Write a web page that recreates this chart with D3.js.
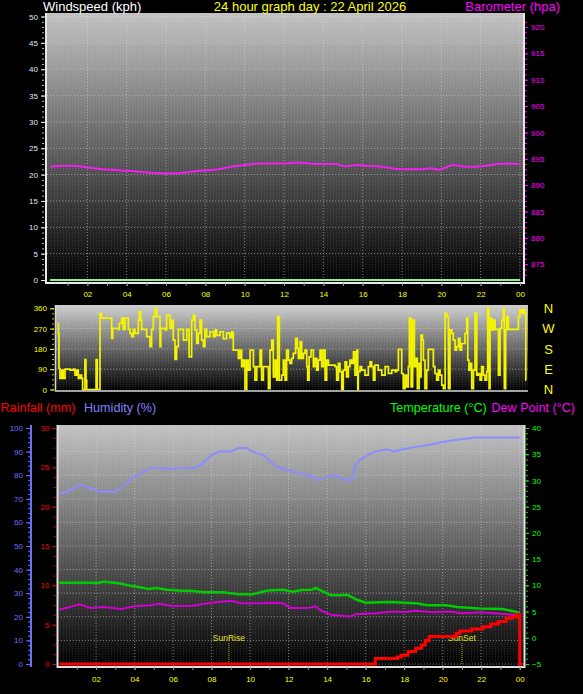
<!DOCTYPE html>
<html>
<head>
<meta charset="utf-8">
<script src="https://cdn.jsdelivr.net/npm/d3@7"></script>
<style>
body { margin: 0; background: #000; }
svg { display: block; }
text { font-family: "Liberation Sans", Arial, sans-serif; }
</style>
</head>
<body>
<svg id="chart" width="583" height="694"></svg>
<script>
const hourTicks = [2, 4, 6, 8, 10, 12, 14, 16, 18, 20, 22, 24];
const hourLabels = ['02', '04', '06', '08', '10', '12', '14', '16', '18', '20', '22', '00'];

const windTicks = [0, 5, 10, 15, 20, 25, 30, 35, 40, 45, 50];
const baroTicks = [875, 880, 885, 890, 895, 900, 905, 910, 915, 920];
const dirTicks = [0, 90, 180, 270, 360];
const compassDirs = [360, 270, 180, 90, 0];
const compassLabels = ['N', 'W', 'S', 'E', 'N'];
const humTicks = [0, 10, 20, 30, 40, 50, 60, 70, 80, 90, 100];
const rainTicks = [0, 5, 10, 15, 20, 25, 30];
const tempTicks = [-5, 0, 5, 10, 15, 20, 25, 30, 35, 40];

// wind speed sat at zero all day
const windHours = [0.1, 24];
const windValues = [0, 0];

const baroHours = [0.1, 1.0, 1.6, 2.3, 3.2, 4.2, 5.1, 6.05, 7.0, 7.6, 8.5, 9.3, 10.0, 10.8, 11.9, 12.7, 13.6, 14.6, 15.1, 15.7, 16.45, 17.0, 17.95, 18.9, 19.5, 19.85, 20.6, 21.2, 22.1, 22.9, 23.45, 24.0];
const baroValues = [893.5, 893.7, 893.6, 893.2, 892.9, 892.7, 892.4, 892.2, 892.4, 892.7, 892.9, 893.5, 893.8, 894.1, 894.1, 894.3, 894.0, 894.0, 893.6, 893.8, 893.6, 893.5, 893.0, 893.0, 893.2, 892.9, 893.8, 893.5, 893.6, 894.0, 894.1, 894.0];

const dirHours = [0.02, 0.07, 0.10, 0.15, 0.24, 0.32, 0.41, 0.49, 0.67, 0.84, 0.92, 1.01, 1.09, 1.18, 1.26, 1.31, 1.43, 1.48, 1.52, 1.94, 2.00, 2.06, 2.17, 2.20, 2.28, 2.63, 2.80, 2.85, 3.14, 3.19, 3.31, 3.39, 3.48, 3.65, 3.74, 3.82, 3.91, 3.99, 4.16, 4.21, 4.28, 4.33, 4.50, 4.59, 4.76, 4.84, 4.93, 5.02, 5.10, 5.19, 5.27, 5.31, 5.53, 5.61, 5.70, 5.78, 5.87, 5.95, 6.04, 6.12, 6.21, 6.47, 6.64, 6.76, 6.89, 6.98, 7.06, 7.15, 7.23, 7.32, 7.40, 7.49, 7.57, 7.66, 7.83, 8.00, 8.09, 8.17, 8.34, 8.51, 8.68, 8.85, 8.94, 8.99, 9.02, 9.19, 9.28, 9.37, 9.45, 9.54, 9.62, 9.71, 9.79, 9.88, 10.05, 10.13, 10.22, 10.39, 10.47, 10.56, 10.82, 10.90, 10.99, 11.07, 11.16, 11.24, 11.29, 11.38, 11.50, 11.58, 11.67, 11.75, 11.84, 11.92, 12.01, 12.09, 12.21, 12.30, 12.35, 12.44, 12.52, 12.61, 12.69, 12.78, 12.83, 12.90, 13.00, 13.12, 13.20, 13.29, 13.37, 13.46, 13.54, 13.63, 13.72, 13.80, 13.89, 14.14, 14.23, 14.31, 14.40, 14.48, 14.57, 14.65, 14.74, 14.82, 14.91, 14.99, 15.08, 15.17, 15.25, 15.34, 15.39, 15.42, 15.51, 15.59, 15.76, 15.93, 16.02, 16.10, 16.19, 16.27, 16.44, 16.62, 16.79, 16.96, 17.13, 17.30, 17.38, 17.47, 17.55, 17.64, 17.72, 17.81, 17.89, 17.98, 18.03, 18.12, 18.20, 18.29, 18.37, 18.44, 18.53, 18.58, 18.63, 18.70, 18.75, 18.83, 18.92, 19.00, 19.17, 19.26, 19.34, 19.43, 19.52, 19.60, 19.69, 19.77, 19.86, 19.94, 20.03, 20.11, 20.20, 20.28, 20.37, 20.45, 20.54, 20.62, 20.71, 20.88, 20.97, 21.02, 21.08, 21.14, 21.22, 21.31, 21.39, 21.48, 21.56, 21.65, 21.73, 21.82, 21.90, 21.99, 22.04, 22.11, 22.16, 22.24, 22.33, 22.42, 22.50, 22.59, 22.67, 22.76, 22.84, 22.89, 22.96, 23.01, 23.10, 23.52, 23.61, 23.69, 23.78, 23.87, 23.95, 23.99, 24.0];
const dirValues = [293, 249, 93, 49, 86, 49, 90, 90, 86, 90, 64, 86, 49, 64, 49, 0, 133, 41, 0, 0, 133, 0, 0, 338, 316, 316, 227, 271, 267, 293, 316, 267, 316, 267, 249, 234, 267, 249, 308, 345, 308, 267, 267, 234, 190, 267, 323, 360, 323, 323, 190, 271, 264, 330, 330, 271, 308, 219, 133, 190, 267, 219, 267, 145, 308, 330, 264, 204, 249, 308, 219, 190, 267, 234, 256, 234, 264, 240, 256, 225, 250, 230, 256, 249, 175, 175, 138, 175, 101, 130, 0, 130, 86, 175, 101, 41, 101, 175, 41, 101, 4, 175, 219, 56, 130, 41, 323, 41, 64, 130, 41, 175, 130, 116, 138, 160, 227, 182, 138, 212, 138, 160, 175, 101, 41, 145, 175, 101, 138, 86, 130, 175, 101, 175, 41, 130, 108, 108, 101, 41, 116, 79, 0, 86, 123, 56, 101, 130, 116, 167, 64, 175, 0, 79, 101, 86, 64, 101, 123, 101, 41, 108, 86, 64, 101, 71, 86, 79, 86, 178, 178, 71, 4, 64, 12, 101, 316, 12, 308, 101, 138, 4, 116, 56, 241, 219, 130, 4, 86, 178, 178, 101, 71, 41, 86, 64, 19, 4, 338, 323, 4, 264, 249, 219, 175, 190, 227, 175, 204, 249, 316, 130, 86, 116, 4, 86, 338, 64, 71, 41, 101, 64, 41, 79, 360, 4, 316, 264, 308, 267, 267, 64, 271, 308, 360, 4, 264, 323, 267, 267, 323, 353, 338, 353, 338, 41, 41];

const humHours = [0.1, 0.5, 1.17, 1.85, 2.2, 3.0, 3.4, 3.77, 4.15, 4.8, 5.4, 5.9, 6.5, 7.0, 7.4, 8.0, 8.4, 9.0, 9.4, 9.85, 10.1, 10.7, 11.3, 12.0, 12.45, 13.0, 13.6, 14.1, 14.5, 14.9, 15.3, 15.45, 15.7, 16.1, 16.5, 17.1, 17.5, 17.95, 18.6, 19.4, 19.9, 20.75, 21.7, 22.0, 24.0];
const humValues = [72, 73, 76, 74, 73, 73, 75, 78, 80, 83, 83, 82.5, 83, 83, 84, 88.5, 90, 90, 91.5, 91.5, 90, 88.5, 84, 82, 81, 80, 78, 79.7, 79.7, 78, 78, 84, 86.4, 88.5, 90, 91, 90, 91, 92, 93, 94, 95, 96, 96, 96];

const tempHours = [0.1, 1.9, 2.0, 2.4, 3.2, 3.8, 4.35, 4.7, 5.1, 5.7, 6.3, 7.05, 7.65, 8.6, 9.4, 10.15, 10.9, 11.7, 12.25, 12.65, 13.2, 13.4, 13.8, 14.2, 14.7, 15.05, 15.55, 16.0, 17.25, 18.6, 19.2, 20.2, 20.75, 21.9, 23.1, 23.75, 24.0];
const tempValues = [10.5, 10.5, 10.4, 10.7, 10.4, 9.9, 9.6, 9.3, 9.5, 9.15, 9.0, 8.9, 8.7, 8.7, 8.3, 8.3, 9.0, 9.15, 8.8, 9.1, 9.15, 9.5, 8.8, 8.1, 8.1, 8.2, 7.25, 6.7, 6.8, 6.6, 6.2, 6.2, 5.85, 5.6, 5.5, 5.0, 4.7];

const dewHours = [0.1, 1.15, 1.7, 2.4, 3.3, 4.0, 4.8, 5.3, 6.0, 7.0, 8.0, 9.0, 9.5, 10.5, 11.2, 11.7, 12.1, 13.0, 13.4, 13.7, 14.2, 15.2, 15.5, 16.5, 17.5, 18.0, 18.6, 19.5, 20.3, 21.0, 22.0, 23.0, 23.7, 24.0];
const dewValues = [5.35, 6.4, 5.7, 5.85, 5.5, 6.0, 6.2, 6.5, 6.0, 6.1, 6.7, 7.05, 6.6, 6.6, 6.7, 6.6, 5.7, 5.7, 6.0, 5.15, 4.4, 4.05, 4.5, 4.7, 5.0, 4.85, 5.15, 4.85, 5.0, 4.7, 4.85, 4.6, 4.4, 3.75];

const rainHours = [0.1, 16.5, 17.65, 17.85, 18.2, 18.6, 18.9, 19.1, 19.3, 20.7, 20.9, 21.5, 22.1, 22.5, 22.9, 23.3, 23.6, 23.85, 24.0, 24.15];
const rainValues = [0, 0.7, 0.9, 1.1, 1.6, 2.0, 2.4, 3.0, 3.5, 3.9, 4.2, 4.45, 4.75, 5.1, 5.4, 5.8, 6.0, 6.3, 0, 0];

const sunRiseHour = 8.9;
const sunSetHour = 21.0;

const svg = d3.select('#chart');
const defs = svg.append('defs');
const font = '"Liberation Sans", Arial, sans-serif';
const tickFont = 8;

function add_gradient(id, top) {
    const g = defs.append('linearGradient').attr('id', id)
        .attr('x1', 0).attr('y1', 0).attr('x2', 0).attr('y2', 1);
    g.append('stop').attr('offset', '0%').attr('stop-color', top);
    g.append('stop').attr('offset', '100%').attr('stop-color', '#000');
}
add_gradient('bg', '#c2c2c2');
add_gradient('bgdir', '#cfcfcf');

// fake the dithered look of the original bitmap
const pat = defs.append('pattern').attr('id', 'dots')
    .attr('width', 3).attr('height', 2).attr('patternUnits', 'userSpaceOnUse');
pat.append('rect').attr('width', 1).attr('height', 1).attr('fill', '#fff').attr('opacity', 0.1);

function panel(x0, y0, x1, y1, grad) {
    svg.append('rect').attr('x', x0).attr('y', y0)
        .attr('width', x1 - x0).attr('height', y1 - y0).attr('fill', `url(#${grad})`);
    svg.append('rect').attr('x', x0).attr('y', y0)
        .attr('width', x1 - x0).attr('height', y1 - y0).attr('fill', 'url(#dots)');
}

function grid(xs, ys, x0, x1, y0, y1) {
    const g = svg.append('g').attr('stroke', '#d8d8d8').attr('stroke-dasharray', '1,2')
        .attr('stroke-opacity', 0.55);
    xs.forEach(x => g.append('line').attr('x1', x).attr('x2', x).attr('y1', y0).attr('y2', y1));
    ys.forEach(y => g.append('line').attr('x1', x0).attr('x2', x1).attr('y1', y).attr('y2', y));
}

function style_axis(g, color, size) {
    g.attr('font-family', font).attr('font-size', size);
    g.select('.domain').remove();
    g.selectAll('line').attr('stroke', color);
    g.selectAll('text').attr('fill', color);
}

function minor(axisFn, scale, values, size, color, tx, ty) {
    const g = svg.append('g').attr('transform', `translate(${tx},${ty})`)
        .call(axisFn(scale).tickValues(values).tickSize(size).tickFormat(''));
    style_axis(g, color, 8);
}

function series(hours, values) {
    return hours.map((h, i) => [h, values[i]]);
}

// ---------- top panel: windspeed + barometer ----------
const xTop = d3.scaleLinear().domain([0, 24]).range([48, 520]);
const yWind = d3.scaleLinear().domain([0, 50]).range([280, 16.5]);
const yBaro = d3.scaleLinear().domain([872, 922]).range([280, 16.5]);

panel(47, 13, 524, 282, 'bg');
grid(hourTicks.map(xTop), windTicks.slice(1).map(yWind), 47, 524, 13, 282);

svg.append('path')
    .datum(series(windHours, windValues))
    .attr('fill', 'none').attr('stroke', '#8ff08f').attr('stroke-width', 2)
    .attr('d', d3.line().x(d => xTop(d[0])).y(d => yWind(d[1])));

svg.append('path')
    .datum(series(baroHours, baroValues))
    .attr('fill', 'none').attr('stroke', '#f020f0').attr('stroke-width', 2)
    .attr('d', d3.line().x(d => xTop(d[0])).y(d => yBaro(d[1])).curve(d3.curveMonotoneX));

// frame
svg.append('path').attr('d', 'M46,13V283H524V13').attr('fill', 'none')
    .attr('stroke', '#e8e8e8').attr('stroke-width', 2);

minor(d3.axisLeft, yWind, d3.range(0, 51, 1), 2, '#bbbbbb', 44, 0);
const gWind = svg.append('g').attr('transform', 'translate(45,0)')
    .call(d3.axisLeft(yWind).tickValues(windTicks).tickSize(4).tickPadding(3));
style_axis(gWind, '#ddeeff', tickFont);

minor(d3.axisRight, yBaro, d3.range(873, 922, 1), 2, '#ff00ff', 525, 0);
const gBaro = svg.append('g').attr('transform', 'translate(525,0)')
    .call(d3.axisRight(yBaro).tickValues(baroTicks).tickSize(3).tickPadding(3));
style_axis(gBaro, '#ff00ff', tickFont);

minor(d3.axisBottom, xTop, d3.range(1, 25, 1), 3, '#999999', 0, 283);
const gTopX = svg.append('g').attr('transform', 'translate(0,283)')
    .call(d3.axisBottom(xTop).tickValues(hourTicks).tickSize(3).tickPadding(5.5)
        .tickFormat((d, i) => hourLabels[i]));
style_axis(gTopX, '#ffff00', tickFont);
gTopX.selectAll('line').attr('stroke', '#999999');

svg.append('text').attr('x', 43).attr('y', 11).attr('fill', '#ffffff')
    .style('font-size', '13px').text('Windspeed (kph)');
svg.append('text').attr('x', 310).attr('y', 11).attr('fill', '#ffff00')
    .attr('text-anchor', 'middle').style('font-size', '13px').text('24 hour graph day : 22 April 2026');
svg.append('text').attr('x', 560).attr('y', 11).attr('fill', '#ff00ff')
    .attr('text-anchor', 'end').style('font-size', '13px').text('Barometer (hpa)');

// ---------- middle panel: wind direction ----------
const xDir = d3.scaleLinear().domain([0, 24]).range([57, 526]);
const yDir = d3.scaleLinear().domain([0, 360]).range([389.5, 308.3]);

panel(56, 305, 528, 391, 'bgdir');
grid([], dirTicks.slice(1, 4).map(yDir), 56, 528, 305, 391);

svg.append('path')
    .datum(series(dirHours, dirValues))
    .attr('fill', 'none').attr('stroke', '#f4f400').attr('stroke-width', 1.7)
    .attr('d', d3.line().x(d => xDir(d[0])).y(d => yDir(d[1])).curve(d3.curveStepAfter));

svg.append('path').attr('d', 'M55.5,305V391H528').attr('fill', 'none')
    .attr('stroke', '#d8d8d8').attr('stroke-width', 1.5);

minor(d3.axisLeft, yDir, d3.range(0, 361, 22.5), 2, '#cccc00', 54, 0);
const gDir = svg.append('g').attr('transform', 'translate(54,0)')
    .call(d3.axisLeft(yDir).tickValues(dirTicks).tickSize(4).tickPadding(3));
style_axis(gDir, '#ffff00', tickFont);

svg.append('g').selectAll('text')
    .data(compassDirs)
    .join('text')
    .attr('x', 548.5)
    .attr('y', d => yDir(d) + 4.7)
    .attr('text-anchor', 'middle')
    .attr('fill', '#ffff00')
    .style('font-size', '13px')
    .text((d, i) => compassLabels[i]);

// ---------- bottom panel: rain, humidity, temperature, dew point ----------
const xBot = d3.scaleLinear().domain([0, 24]).range([57.5, 519.7]);
const yHum = d3.scaleLinear().domain([0, 100]).range([664, 428]);
const yRain = d3.scaleLinear().domain([0, 30]).range([664, 428]);
const yTemp = d3.scaleLinear().domain([-5, 40]).range([664, 428]);

panel(58, 425, 524, 666, 'bg');
grid(hourTicks.map(xBot), humTicks.map(yHum), 58, 524, 425, 666);

// sunrise / sunset markers
[[sunRiseHour, 'SunRise'], [sunSetHour, 'SunSet']].forEach(([h, label]) => {
    svg.append('line').attr('x1', xBot(h)).attr('x2', xBot(h)).attr('y1', 643).attr('y2', 664)
        .attr('stroke', '#b0b000').attr('stroke-dasharray', '1,1');
    svg.append('text').attr('x', xBot(h)).attr('y', 640.5).attr('text-anchor', 'middle')
        .attr('fill', '#e0e020').style('font-size', '8.5px').text(label);
});

svg.append('path')
    .datum(series(humHours, humValues))
    .attr('fill', 'none').attr('stroke', '#8c8cff').attr('stroke-width', 2)
    .attr('d', d3.line().x(d => xBot(d[0])).y(d => yHum(d[1])));

svg.append('path')
    .datum(series(tempHours, tempValues))
    .attr('fill', 'none').attr('stroke', '#00cc00').attr('stroke-width', 2.5)
    .attr('d', d3.line().x(d => xBot(d[0])).y(d => yTemp(d[1])));

svg.append('path')
    .datum(series(dewHours, dewValues))
    .attr('fill', 'none').attr('stroke', '#d000d0').attr('stroke-width', 2)
    .attr('d', d3.line().x(d => xBot(d[0])).y(d => yTemp(d[1])));

svg.append('path')
    .datum(series(rainHours, rainValues))
    .attr('fill', 'none').attr('stroke', '#ff0000').attr('stroke-width', 3)
    .attr('d', d3.line().x(d => xBot(d[0])).y(d => yRain(d[1])).curve(d3.curveStepAfter));

svg.append('path').attr('d', 'M57.5,425V667H524.5V425').attr('fill', 'none')
    .attr('stroke', '#e0e0e0').attr('stroke-width', 2);

// humidity axis with its own blue spine
svg.append('line').attr('x1', 31).attr('x2', 31).attr('y1', 425).attr('y2', 667)
    .attr('stroke', '#6f6fff').attr('stroke-width', 2);
minor(d3.axisLeft, yHum, d3.range(0, 101, 2), 2, '#6f6fff', 30, 0);
const gHum = svg.append('g').attr('transform', 'translate(30,0)')
    .call(d3.axisLeft(yHum).tickValues(humTicks).tickSize(4).tickPadding(3));
style_axis(gHum, '#6f6fff', tickFont);

minor(d3.axisLeft, yRain, d3.range(0, 30.1, 1.25), 2, '#dd0000', 55.5, 0);
const gRain = svg.append('g').attr('transform', 'translate(55.5,0)')
    .call(d3.axisLeft(yRain).tickValues(rainTicks).tickSize(3).tickPadding(3));
style_axis(gRain, '#ff0000', tickFont);

minor(d3.axisRight, yTemp, d3.range(-5, 41, 1), 2, '#00dd00', 526, 0);
const gTemp = svg.append('g').attr('transform', 'translate(526,0)')
    .call(d3.axisRight(yTemp).tickValues(tempTicks).tickSize(3).tickPadding(3));
style_axis(gTemp, '#00ff00', tickFont);

minor(d3.axisBottom, xBot, d3.range(1, 25, 1), 3, '#999999', 0, 667);
const gBotX = svg.append('g').attr('transform', 'translate(0,667)')
    .call(d3.axisBottom(xBot).tickValues(hourTicks).tickSize(3).tickPadding(6.5)
        .tickFormat((d, i) => hourLabels[i]));
style_axis(gBotX, '#ffff00', tickFont);
gBotX.selectAll('line').attr('stroke', '#999999');

// legend row
const legend = [
    ['Rainfall (mm)', '#ff0000', 0.5],
    ['Humidity (%)', '#8080ff', 84],
    ['Temperature (°C)', '#00ff00', 390],
    ['Dew Point (°C)', '#ff00ff', 491.5]
];
svg.append('g').selectAll('text')
    .data(legend)
    .join('text')
    .attr('x', d => d[2])
    .attr('y', 411.5)
    .attr('fill', d => d[1])
    .style('font-size', '12.6px')
    .text(d => d[0]);
</script>
</body>
</html>
